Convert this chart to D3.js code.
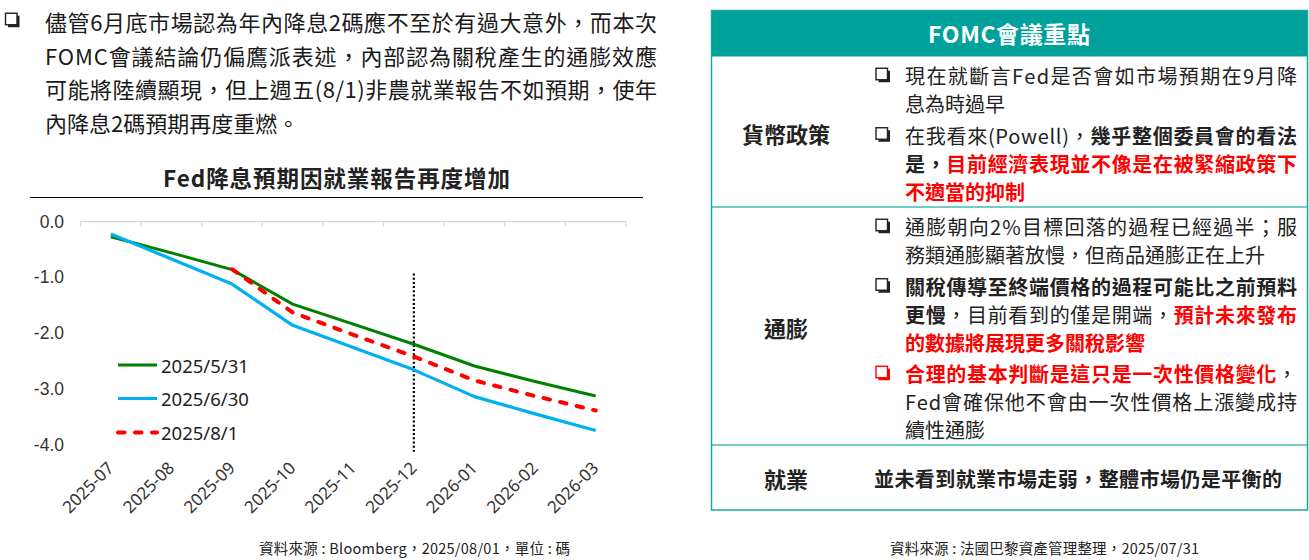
<!DOCTYPE html>
<html>
<head>
<meta charset="utf-8">
<script src="https://cdn.jsdelivr.net/npm/d3@7"></script>
<style>
  body { margin: 0; background: #fff; }
  svg { display: block; }
  text { font-family: "Noto Sans CJK TC", "Noto Sans", sans-serif; }
</style>
</head>
<body>
<div id="chart"></div>
<script>
// data (unit: 碼)
const months = ["2025-07", "2025-08", "2025-09", "2025-10", "2025-11", "2025-12", "2026-01", "2026-02", "2026-03"];
const may31 = [-0.27, -0.56, -0.86, -1.48, -1.84, -2.2, -2.59, -2.87, -3.13];
const jun30 = [-0.22, -0.67, -1.12, -1.86, -2.26, -2.66, -3.14, -3.45, -3.75];
const aug1 = [null, null, -0.85, -1.63, -2.03, -2.42, -2.85, -3.13, -3.39];
const seriesNames = ["2025/5/31", "2025/6/30", "2025/8/1"];
const yTicks = [0, -1, -2, -3, -4];
const markMonth = "2025-12";

const paragraph = [
  "儘管6月底市場認為年內降息2碼應不至於有過大意外，而本次",
  "FOMC會議結論仍偏鷹派表述，內部認為關稅產生的通膨效應",
  "可能將陸續顯現，但上週五(8/1)非農就業報告不如預期，使年",
  "內降息2碼預期再度重燃。"
];

// right table: rows -> bullets -> lines -> segments [text, style]
const tableRows = [
  { label: "貨幣政策", bullets: [
    { red: false, lines: [
      { j: true, seg: [["現在就斷言Fed是否會如市場預期在9月降", "n"]] },
      { j: false, seg: [["息為時過早", "n"]] }
    ]},
    { red: false, lines: [
      { j: true, seg: [["在我看來(Powell)，", "n"], ["幾乎整個委員會的看法", "b"]] },
      { j: true, seg: [["是，", "b"], ["目前經濟表現並不像是在被緊縮政策下", "r"]] },
      { j: false, seg: [["不適當的抑制", "r"]] }
    ]}
  ]},
  { label: "通膨", bullets: [
    { red: false, lines: [
      { j: true, seg: [["通膨朝向2%目標回落的過程已經過半；服", "n"]] },
      { j: false, seg: [["務類通膨顯著放慢，但商品通膨正在上升", "n"]] }
    ]},
    { red: false, lines: [
      { j: true, seg: [["關稅傳導至終端價格的過程可能比之前預料", "b"]] },
      { j: true, seg: [["更慢", "b"], ["，目前看到的僅是開端，", "n"], ["預計未來發布", "r"]] },
      { j: false, seg: [["的數據將展現更多關稅影響", "r"]] }
    ]},
    { red: true, lines: [
      { j: true, seg: [["合理的基本判斷是這只是一次性價格變化", "r"], ["，", "n"]] },
      { j: true, seg: [["Fed會確保他不會由一次性價格上漲變成持", "n"]] },
      { j: false, seg: [["續性通膨", "n"]] }
    ]}
  ]},
  { label: "就業", text: "並未看到就業市場走弱，整體市場仍是平衡的" }
];

const W = 1309, H = 560;
const svg = d3.select("#chart").append("svg").attr("width", W).attr("height", H);

function justify(t, width) {
  const n = t.text().length;
  const cur = t.node().getComputedTextLength();
  t.attr("letter-spacing", (width - cur) / (n - 1));
}

function bulletBox(x, cy, color) {
  const s = 11.5;
  svg.append("rect").attr("x", x + 2.5).attr("y", cy - s / 2 + 2.5)
    .attr("width", s).attr("height", s).attr("fill", color);
  svg.append("rect").attr("x", x).attr("y", cy - s / 2)
    .attr("width", s).attr("height", s)
    .attr("fill", "#fff").attr("stroke", color).attr("stroke-width", 1.4);
}

// ---- paragraph ----
bulletBox(5.5, 19, "#222");
paragraph.forEach((line, i) => {
  const t = svg.append("text")
    .attr("x", 45).attr("y", 21 + i * 33.5)
    .attr("dominant-baseline", "central")
    .attr("font-size", 22).attr("fill", "#1a1a1a")
    .text(line);
  if (i < paragraph.length - 1) justify(t, 612);
});

// ---- chart ----
const title = svg.append("text")
  .attr("x", 163).attr("y", 177)
  .attr("dominant-baseline", "central")
  .attr("font-size", 22.5).attr("font-weight", "bold").attr("fill", "#222")
  .text("Fed降息預期因就業報告再度增加");
justify(title, 347);

svg.append("line").attr("x1", 30).attr("x2", 643).attr("y1", 197.5).attr("y2", 197.5)
  .attr("stroke", "#000").attr("stroke-width", 1);

const x = d3.scaleBand().domain(months).range([80.5, 626]);
const y = d3.scaleLinear().domain([-4, 0]).range([444.5, 221.7]);
const cx = (m) => x(m) + x.bandwidth() / 2;

// zero line with category ticks at band edges
const g = svg.append("g");
g.append("line").attr("x1", x.range()[0]).attr("x2", x.range()[1])
  .attr("y1", y(0)).attr("y2", y(0)).attr("stroke", "#d9d9d9").attr("stroke-width", 1.2);
const edges = months.map((m) => x(m)).concat([x.range()[1]]);
g.selectAll(".tk").data(edges).enter().append("line")
  .attr("x1", (d) => d).attr("x2", (d) => d)
  .attr("y1", y(0)).attr("y2", y(0) + 5)
  .attr("stroke", "#d9d9d9").attr("stroke-width", 1.2);

// y labels
g.selectAll(".yl").data(yTicks).enter().append("text")
  .attr("x", 64).attr("y", (d) => y(d))
  .attr("text-anchor", "end").attr("dominant-baseline", "central")
  .style("font-family", "'Liberation Sans', Arial, sans-serif")
  .attr("font-size", 17.5).attr("fill", "#333")
  .text((d) => d.toFixed(1));

// x labels
g.selectAll(".xl").data(months).enter().append("text")
  .attr("transform", (d) => `translate(${cx(d) + 4},${469}) rotate(-45)`)
  .attr("text-anchor", "end")
  .style("font-family", "'Noto Sans', sans-serif")
  .attr("font-size", 17).attr("fill", "#333")
  .text((d) => d);

// vertical marker
g.append("line").attr("x1", cx(markMonth)).attr("x2", cx(markMonth))
  .attr("y1", y(-0.93)).attr("y2", y(-4.13))
  .attr("stroke", "#000").attr("stroke-width", 2.2).attr("stroke-dasharray", "2,2.2");

const series = [
  { name: seriesNames[0], values: may31, color: "#008000", width: 3, dash: null },
  { name: seriesNames[1], values: jun30, color: "#00b0f0", width: 3.2, dash: null },
  { name: seriesNames[2], values: aug1, color: "#ff0000", width: 4, dash: "6.5 10.5" }
];

const line = d3.line()
  .defined((d) => d.v !== null)
  .x((d) => cx(d.m))
  .y((d) => y(d.v));

series.forEach((s) => {
  g.append("path")
    .datum(months.map((m, i) => ({ m, v: s.values[i] })))
    .attr("d", line)
    .attr("fill", "none")
    .attr("stroke", s.color)
    .attr("stroke-width", s.width)
    .attr("stroke-linejoin", "round")
    .attr("stroke-linecap", s.dash ? "round" : "butt")
    .attr("stroke-dasharray", s.dash);
});

// legend
const legendY = [365, 398.5, 432.5];
series.forEach((s, i) => {
  g.append("line").attr("x1", 118).attr("x2", 157)
    .attr("y1", legendY[i]).attr("y2", legendY[i])
    .attr("stroke", s.color).attr("stroke-width", s.width)
    .attr("stroke-linecap", s.dash ? "round" : "butt")
    .attr("stroke-dasharray", s.dash);
  g.append("text").attr("x", 161).attr("y", legendY[i])
    .attr("dominant-baseline", "central")
    .style("font-family", "'Noto Sans', sans-serif")
    .attr("font-size", 18.5).attr("fill", "#222")
    .text(s.name);
});

const src1 = svg.append("text").attr("x", 259).attr("y", 547)
  .attr("dominant-baseline", "central").attr("font-size", 14.5).attr("fill", "#222")
  .text("資料來源 : Bloomberg，2025/08/01，單位 : 碼");
justify(src1, 311);

// ---- table ----
const tx = 711.5, tw = 596, ty = 10.5, th = 499.5;
const teal = "#00a19b";
svg.append("rect").attr("x", tx).attr("y", ty).attr("width", tw).attr("height", 46)
  .attr("fill", teal);
const head = svg.append("text").attr("x", 928).attr("y", 33)
  .attr("dominant-baseline", "central")
  .attr("font-size", 23).attr("font-weight", "bold").attr("fill", "#fff")
  .text("FOMC會議重點");
justify(head, 162);
[207, 445].forEach((yy) => {
  svg.append("line").attr("x1", tx).attr("x2", tx + tw).attr("y1", yy).attr("y2", yy)
    .attr("stroke", "#45b8b4").attr("stroke-width", 1.3);
});
svg.append("rect").attr("x", tx).attr("y", ty).attr("width", tw).attr("height", th)
  .attr("fill", "none").attr("stroke", "#1aa7a1").attr("stroke-width", 1.5);

const labelY = [133, 327, 478];
const rowStart = [75, 226];
const lineH = 28, bulletGap = 3.5;
const styleOf = {
  n: { w: "normal", c: "#222" },
  b: { w: "bold", c: "#222" },
  r: { w: "bold", c: "#ff0000" }
};

tableRows.forEach((row, ri) => {
  svg.append("text").attr("x", 786).attr("y", labelY[ri])
    .attr("text-anchor", "middle").attr("dominant-baseline", "central")
    .attr("font-size", 22).attr("font-weight", "bold").attr("fill", "#222")
    .text(row.label);

  if (row.text) {
    const t = svg.append("text").attr("x", 874).attr("y", labelY[ri])
      .attr("dominant-baseline", "central")
      .attr("font-size", 20).attr("font-weight", "bold").attr("fill", "#222")
      .text(row.text);
    justify(t, 408);
    return;
  }

  let yy = rowStart[ri];
  row.bullets.forEach((b, bi) => {
    if (bi > 0) yy += bulletGap;
    bulletBox(876, yy - 1, b.red ? "#ff0000" : "#222");
    b.lines.forEach((ln) => {
      const t = svg.append("text").attr("x", 905).attr("y", yy)
        .attr("dominant-baseline", "central").attr("font-size", 20);
      ln.seg.forEach(([txt, st]) => {
        t.append("tspan").attr("font-weight", styleOf[st].w)
          .attr("fill", styleOf[st].c).text(txt);
      });
      if (ln.j) justify(t, 392);
      yy += lineH;
    });
  });
});

const src2 = svg.append("text").attr("x", 890).attr("y", 547)
  .attr("dominant-baseline", "central").attr("font-size", 14.5).attr("fill", "#222")
  .text("資料來源 : 法國巴黎資產管理整理，2025/07/31");
justify(src2, 309);
</script>
</body>
</html>
